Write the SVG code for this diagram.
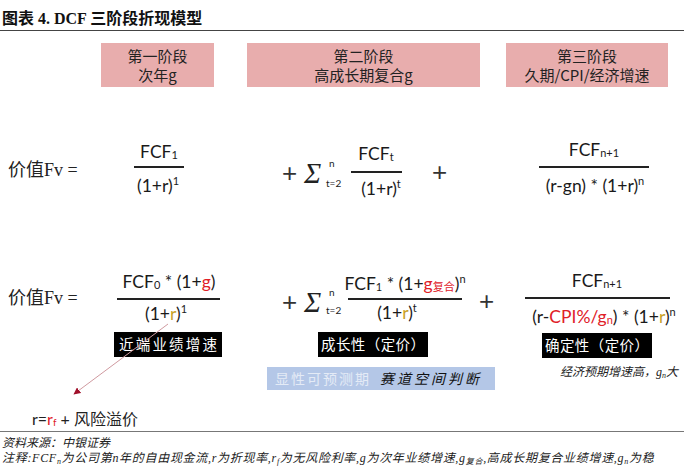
<svg xmlns="http://www.w3.org/2000/svg" width="684" height="466" viewBox="0 0 684 466">
<style>
.title{font-family:"Liberation Serif","Noto Sans CJK SC",serif;font-weight:bold;font-size:16px;fill:#111}
.stage{fill:#e8adad}
.stxt{font-family:"Noto Sans CJK SC",sans-serif;font-size:15px;fill:#222;text-anchor:middle}
.lhs{font-family:"Liberation Serif","Noto Sans CJK SC",serif;font-size:18px;fill:#222}
.f{font-family:Lato,"Liberation Sans","Noto Sans CJK SC",sans-serif;font-size:17.5px;fill:#1a1a1a;text-anchor:middle}
.op{font-family:"Liberation Sans",sans-serif;font-size:26px;fill:#333;font-weight:300}
.sig{font-family:"Liberation Serif",serif;font-style:italic;font-size:29px;fill:#222}
.lim{font-family:Lato,"Liberation Sans",sans-serif;font-size:10px;fill:#222}
.bar{stroke:#222;stroke-width:2.2}
.red{fill:#e02028}
.gold{fill:#c9a227}
.lbl{fill:#000}
.ltxt{font-family:"Noto Sans CJK SC",sans-serif;font-size:14.5px;fill:#fff;text-anchor:middle}
.note{font-family:"Liberation Serif","Noto Sans CJK SC",serif;font-style:italic;font-size:12px;fill:#222}
</style>
<defs>
<marker id="ah" viewBox="0 0 10 10" refX="9" refY="5" markerWidth="7" markerHeight="7" orient="auto">
<path d="M0,0 L10,5 L0,10 z" fill="#a0102a"/>
</marker>
</defs>

<g id="title">
<text class="title" x="2" y="24">图表 4. DCF 三阶段折现模型</text>
<line x1="0" y1="30.5" x2="684" y2="30.5" stroke="#444" stroke-width="1.2"/>
</g>

<g id="stage1">
<rect class="stage" x="101" y="43" width="113" height="44"/>
<text class="stxt" x="157.5" y="62">第一阶段</text>
<text class="stxt" x="157.5" y="81">次年g</text>
</g>
<g id="stage2">
<rect class="stage" x="247" y="43" width="233" height="44"/>
<text class="stxt" x="363.5" y="62">第二阶段</text>
<text class="stxt" x="363.5" y="81">高成长期复合g</text>
</g>
<g id="stage3">
<rect class="stage" x="506" y="43" width="162" height="44"/>
<text class="stxt" x="587" y="62">第三阶段</text>
<text class="stxt" x="587" y="81">久期/CPI/经济增速</text>
</g>

<g id="formula1">
<text class="lhs" x="8" y="176">价值Fv =</text>
<text class="f" x="159" y="158">FCF<tspan font-size="11" dy="1">1</tspan></text>
<line class="bar" x1="134" y1="167" x2="184" y2="167"/>
<text class="f" x="158" y="192">(1+r)<tspan font-size="11" dy="-7">1</tspan></text>

<text class="op" x="282" y="182">+</text>
<text class="sig" x="304" y="183">Σ</text>
<text class="lim" x="329" y="167">n</text>
<text class="lim" x="326" y="187">t=2</text>
<text class="f" x="376" y="160">FCF<tspan font-size="11" dy="1">t</tspan></text>
<line class="bar" x1="351" y1="172" x2="402" y2="172"/>
<text class="f" x="381" y="195">(1+r)<tspan font-size="11" dy="-7">t</tspan></text>
<text class="op" x="432" y="181">+</text>

<text class="f" x="594" y="156">FCF<tspan font-size="11" dy="1">n+1</tspan></text>
<line class="bar" x1="539" y1="167" x2="649" y2="167"/>
<text class="f" x="595" y="192">(r-gn) * (1+r)<tspan font-size="11" dy="-7">n</tspan></text>
</g>

<g id="formula2">
<text class="lhs" x="8" y="304">价值Fv =</text>
<text class="f" x="169" y="288">FCF<tspan font-size="11" dy="1">0</tspan><tspan dy="-1"> * (1+</tspan><tspan class="red">g</tspan>)</text>
<line class="bar" x1="117" y1="299" x2="220" y2="299"/>
<text class="f" x="166" y="320">(1+<tspan class="gold">r</tspan>)<tspan font-size="11" dy="-7">1</tspan></text>

<text class="op" x="282" y="311">+</text>
<text class="sig" x="304" y="312">Σ</text>
<text class="lim" x="329" y="296">n</text>
<text class="lim" x="326" y="314">t=2</text>
<text class="f" x="405" y="290">FCF<tspan font-size="11" dy="1">1</tspan><tspan dy="-1"> * (1+</tspan><tspan class="red">g</tspan><tspan class="red" font-size="11" dy="1">复合</tspan><tspan dy="-1">)</tspan><tspan font-size="11" dy="-7">n</tspan></text>
<line class="bar" x1="348" y1="299" x2="462" y2="299"/>
<text class="f" x="397" y="319">(1+<tspan class="gold">r</tspan>)<tspan font-size="11" dy="-7">t</tspan></text>
<text class="op" x="479" y="310">+</text>

<text class="f" x="597" y="287">FCF<tspan font-size="11" dy="1">n+1</tspan></text>
<line class="bar" x1="525" y1="298" x2="670" y2="298"/>
<text class="f" x="604" y="323">(r-<tspan class="red">CPI%/g</tspan><tspan class="red" font-size="11" dy="1">n</tspan><tspan dy="-1">) * (1+</tspan><tspan class="gold">r</tspan>)<tspan font-size="11" dy="-7">n</tspan></text>
</g>

<g id="label-near">
<rect class="lbl" x="114" y="332" width="108" height="25"/>
<text class="ltxt" x="168" y="350" textLength="98" lengthAdjust="spacing">近端业绩增速</text>
</g>
<g id="label-growth">
<rect class="lbl" x="318" y="332" width="110" height="25"/>
<text class="ltxt" x="373" y="350" textLength="104" lengthAdjust="spacing">成长性（定价）</text>
</g>
<g id="label-certain">
<rect class="lbl" x="542" y="333" width="110" height="25"/>
<text class="ltxt" x="597" y="351" textLength="104" lengthAdjust="spacing">确定性（定价）</text>
</g>

<g id="explicit">
<rect x="267" y="367" width="228" height="23" fill="#b4c7e7"/>
<text x="275" y="384" font-family="Noto Sans CJK SC,sans-serif" font-size="14" fill="#e4ebf6" letter-spacing="2">显性可预测期</text>
<text x="380" y="384" font-family="Noto Sans CJK SC,sans-serif" font-size="14" font-style="italic" fill="#111" letter-spacing="3">赛道空间判断</text>
</g>

<g id="econ-note">
<text class="note" x="560" y="376">经济预期增速高，g<tspan font-size="8" dy="2">n</tspan><tspan dy="-2">大</tspan></text>
</g>

<g id="connectors">
<line x1="168" y1="324" x2="74" y2="394" stroke="#d09aa0" stroke-width="1" marker-end="url(#ah)"/>
</g>

<g id="r-def">
<text x="32" y="425" font-family="Lato,'Liberation Sans','Noto Sans CJK SC',sans-serif" font-size="16" fill="#222">r=<tspan class="red">r</tspan><tspan class="red" font-size="10" dy="1">f</tspan><tspan dy="-1"> + 风险溢价</tspan></text>
</g>

<g id="footer">
<line x1="0" y1="431.5" x2="684" y2="431.5" stroke="#777" stroke-width="1.2"/>
<text class="note" x="2" y="447" font-size="12.5">资料来源：中银证券</text>
<text class="note" x="2" y="462" letter-spacing="0.7">注释:FCF<tspan font-size="8" dy="2">n</tspan><tspan dy="-2">为公司第n年的自由现金流,r为折现率,r</tspan><tspan font-size="8" dy="2">f</tspan><tspan dy="-2">为无风险利率,g为次年业绩增速,g</tspan><tspan font-size="8" dy="2">复合</tspan><tspan dy="-2">,高成长期复合业绩增速,g</tspan><tspan font-size="8" dy="2">n</tspan><tspan dy="-2">为稳</tspan></text>
</g>
</svg>
